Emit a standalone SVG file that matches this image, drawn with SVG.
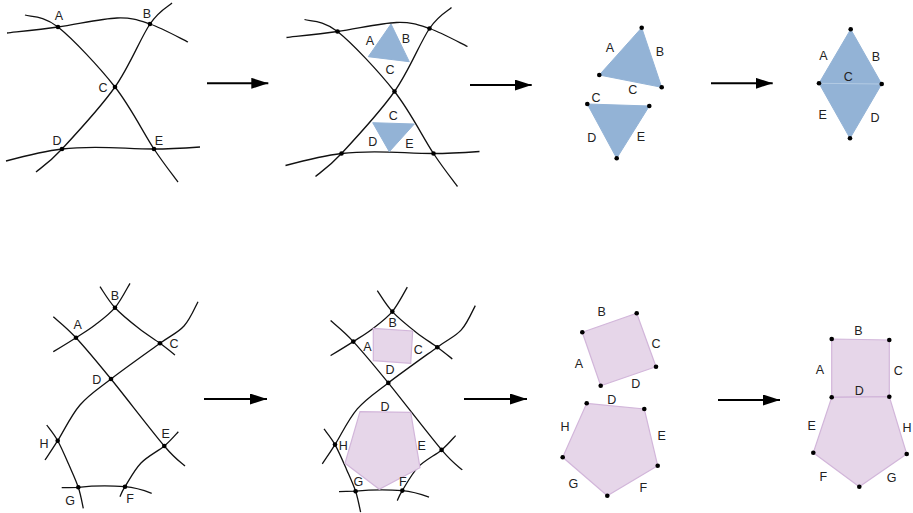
<svg xmlns="http://www.w3.org/2000/svg" xmlns:xlink="http://www.w3.org/1999/xlink" width="913" height="513" viewBox="0 0 913 513">
<style>
.c{fill:none;stroke:#111;stroke-width:1.3}
.d{fill:#000}
.t{font-family:"Liberation Sans",Arial,sans-serif;font-size:12.5px;fill:#222;text-anchor:middle}
.b{fill:#93b3d6;stroke:#93b3d6;stroke-width:1}
.p{fill:#e6d6e9;stroke:#d2b6da;stroke-width:1.2}
.a{stroke:#000;stroke-width:2;fill:none}
</style>
<defs>
<marker id="ah" markerUnits="userSpaceOnUse" markerWidth="18" markerHeight="12" refX="17" refY="5.5" orient="auto">
<path d="M0,0 L17,5.5 L0,11 Z" fill="#000"/>
</marker>
<g id="net1">
<path class="c" d="M7,33 C15.5,32 39.7,29.5 58,27 C76.3,24.5 101.7,18.5 117,18 C132.3,17.5 138.2,20 150,24 C161.8,28 181.7,39 188,42"/>
<path class="c" d="M25,15 C30.5,17 43,15 58,27 C73,39 99,66.7 115,87 C131,107.3 143.5,133.2 154,149 C164.5,164.8 174,176.5 178,182"/>
<path class="c" d="M172,3 C168.3,6.5 159.5,10 150,24 C140.5,38 129.7,66.2 115,87 C100.3,107.8 75.2,134.8 62,149 C48.8,163.2 40.3,168.2 36,172"/>
<path class="c" d="M6,161 C25,156 45,151 62,149 C95,145 125,149 154,149 C170,149 185,148 200,147"/>
</g>
<g id="net2">
<path class="c" d="M100,286.7 C102.5,290.2 108.5,300.7 115,307.7 C121.5,314.7 131.5,322.6 139,328.5 C146.5,334.4 154,338.9 160,343.3 C166,347.7 172.5,353 175,355"/>
<path class="c" d="M130,283.3 C127.5,287.4 120.8,300.8 115,307.7 C109.2,314.6 101.5,320 95,325 C88.5,330 83,333.2 76,337.7 C69,342.2 57.1,349.4 53.3,351.7"/>
<path class="c" d="M53.3,316.7 C57.1,320.2 66.4,327.3 76,337.7 C85.6,348.1 96.3,360.9 111,379 C125.7,397.1 152,431.5 164.3,446 C176.6,460.5 181.5,462.7 185,466"/>
<path class="c" d="M198,301.7 C195.7,305.8 190.3,319.1 184,326 C177.7,332.9 172.2,334.5 160,343.3 C147.8,352.1 124.3,368.7 111,379 C97.7,389.3 88.9,394.7 80,405 C71.1,415.3 63.5,431.5 57.7,440.7 C51.9,449.9 47.1,456.8 45,460"/>
<path class="c" d="M46.7,425 C48.5,427.6 54,434 57.7,440.7 C61.4,447.4 65.6,457.2 69,465 C72.4,472.8 75.9,480.1 78.3,487.3 C80.7,494.5 82.5,504.8 83.3,508.3"/>
<path class="c" d="M61.7,487.7 C67,487.5 72,487.4 78.3,487.3 C95,485.5 110,485.5 125,486.7 C135,487.5 143,490 151.7,493.3"/>
<path class="c" d="M178.3,431.7 C176,434.1 170.5,440.8 164.3,446 C158.1,451.2 147.6,456.2 141,463 C134.5,469.8 128.5,481.1 125,486.7 C121.5,492.3 120.8,495 120,496.7"/>
</g>
</defs>

<g id="panel1">
<use xlink:href="#net1" href="#net1"/>
<circle class="d" cx="58" cy="27" r="2.3"/><circle class="d" cx="150" cy="24" r="2.3"/><circle class="d" cx="115" cy="87" r="2.3"/><circle class="d" cx="62" cy="149" r="2.3"/><circle class="d" cx="154" cy="149" r="2.3"/>
<text class="t" x="59" y="19.5">A</text><text class="t" x="147" y="17.5">B</text><text class="t" x="103" y="91.5">C</text><text class="t" x="57" y="144.5">D</text><text class="t" x="159" y="144.5">E</text>
</g>

<g id="panel2">
<use xlink:href="#net1" href="#net1" transform="translate(279.5,4.5)"/>
<polygon class="b" points="391,24 368.3,56.7 409.3,61.7"/>
<polygon class="b" points="372.7,122.7 414.3,124 389.3,151.7"/>
<circle class="d" cx="337.5" cy="31.5" r="2.3"/><circle class="d" cx="429.5" cy="28.5" r="2.3"/><circle class="d" cx="394.5" cy="91.5" r="2.3"/><circle class="d" cx="341.5" cy="153.5" r="2.3"/><circle class="d" cx="433.5" cy="153.5" r="2.3"/>
<text class="t" x="370" y="44.5">A</text><text class="t" x="406" y="42.8">B</text><text class="t" x="390" y="73.8">C</text><text class="t" x="393.3" y="120.2">C</text><text class="t" x="372.7" y="146.2">D</text><text class="t" x="409.3" y="147.8">E</text>
</g>

<g id="panel3">
<polygon class="b" points="641.7,27.7 599.3,75 661.7,87.3"/>
<polygon class="b" points="587.3,104 649.3,106 616.7,158.3"/>
<circle class="d" cx="641.7" cy="27.7" r="2.3"/><circle class="d" cx="599.3" cy="75" r="2.3"/><circle class="d" cx="661.7" cy="87.3" r="2.3"/><circle class="d" cx="587.3" cy="104" r="2.3"/><circle class="d" cx="649.3" cy="106" r="2.3"/><circle class="d" cx="616.7" cy="158.3" r="2.3"/>
<text class="t" x="610" y="52.2">A</text><text class="t" x="660" y="56.2">B</text><text class="t" x="632.7" y="93.8">C</text><text class="t" x="596" y="101.8">C</text><text class="t" x="591.7" y="141.8">D</text><text class="t" x="641" y="141.2">E</text>
</g>

<g id="panel4">
<polygon class="b" points="850.7,29.3 881.7,84 850,138.3 819,83.3"/>
<line x1="819" y1="83.3" x2="881.7" y2="84" stroke="#b3cbe4" stroke-width="1"/>
<circle class="d" cx="850.7" cy="29.3" r="2.3"/><circle class="d" cx="819" cy="83.3" r="2.3"/><circle class="d" cx="881.7" cy="84" r="2.3"/><circle class="d" cx="850" cy="138.3" r="2.3"/>
<text class="t" x="823.3" y="59.5">A</text><text class="t" x="876" y="60.5">B</text><text class="t" x="848.3" y="81.2">C</text><text class="t" x="822.7" y="118.5">E</text><text class="t" x="875" y="121.8">D</text>
</g>

<g id="panel5">
<use xlink:href="#net2" href="#net2"/>
<circle class="d" cx="115" cy="307.7" r="2.3"/><circle class="d" cx="76" cy="337.7" r="2.3"/><circle class="d" cx="160" cy="343.3" r="2.3"/><circle class="d" cx="111" cy="379" r="2.3"/><circle class="d" cx="57.7" cy="440.7" r="2.3"/><circle class="d" cx="164.3" cy="446" r="2.3"/><circle class="d" cx="78.3" cy="487.3" r="2.3"/><circle class="d" cx="125" cy="486.7" r="2.3"/>
<text class="t" x="115" y="299.5">B</text><text class="t" x="77.7" y="328.8">A</text><text class="t" x="174" y="347.8">C</text><text class="t" x="96.7" y="383.8">D</text><text class="t" x="44" y="447.8">H</text><text class="t" x="165.7" y="437.8">E</text><text class="t" x="70" y="504.5">G</text><text class="t" x="130" y="502.8">F</text>
</g>

<g id="panel6">
<use xlink:href="#net2" href="#net2" transform="translate(277.3,3.9)"/>
<polygon class="p" points="373.3,328.3 412.7,331 410.7,363.3 373.3,360.7"/>
<polygon class="p" points="360,411.7 410.7,412.3 420,467.7 379.3,489.3 345,463.3"/>
<circle class="d" cx="392.3" cy="311.6" r="2.3"/><circle class="d" cx="353.3" cy="341.6" r="2.3"/><circle class="d" cx="437.3" cy="347.2" r="2.3"/><circle class="d" cx="388.3" cy="382.9" r="2.3"/><circle class="d" cx="335" cy="444.6" r="2.3"/><circle class="d" cx="441.6" cy="449.9" r="2.3"/><circle class="d" cx="355.6" cy="491.2" r="2.3"/><circle class="d" cx="402.3" cy="490.6" r="2.3"/>
<text class="t" x="392.7" y="327.2">B</text><text class="t" x="367.3" y="351.2">A</text><text class="t" x="418.3" y="353.5">C</text><text class="t" x="390" y="373.8">D</text><text class="t" x="385" y="410.5">D</text><text class="t" x="343.3" y="449.5">H</text><text class="t" x="421.7" y="450.2">E</text><text class="t" x="358.3" y="486.2">G</text><text class="t" x="402.7" y="486.2">F</text>
</g>

<g id="panel7">
<polygon class="p" points="582.3,332.3 636.7,313.3 656,366.7 600.7,385.7"/>
<polygon class="p" points="586.7,403.3 644.3,409 657.7,465.7 607.3,495.7 562.7,457.3"/>
<circle class="d" cx="582.3" cy="332.3" r="2.3"/><circle class="d" cx="636.7" cy="313.3" r="2.3"/><circle class="d" cx="656" cy="366.7" r="2.3"/><circle class="d" cx="600.7" cy="385.7" r="2.3"/>
<circle class="d" cx="586.7" cy="403.3" r="2.3"/><circle class="d" cx="644.3" cy="409" r="2.3"/><circle class="d" cx="657.7" cy="465.7" r="2.3"/><circle class="d" cx="607.3" cy="495.7" r="2.3"/><circle class="d" cx="562.7" cy="457.3" r="2.3"/>
<text class="t" x="601.7" y="315.5">B</text><text class="t" x="656" y="347.8">C</text><text class="t" x="579" y="367.8">A</text><text class="t" x="635.7" y="387.8">D</text><text class="t" x="611.7" y="403.8">D</text><text class="t" x="565" y="430.5">H</text><text class="t" x="661.7" y="439.5">E</text><text class="t" x="573.3" y="487.8">G</text><text class="t" x="643.3" y="491.8">F</text>
</g>

<g id="panel8">
<polygon class="p" points="831.7,339 889.3,340 889.3,396.7 831.7,397.3"/>
<polygon class="p" points="831.7,397.3 889.3,396.7 906.7,454 859.3,486.7 813.3,452.7"/>
<circle class="d" cx="831.7" cy="339" r="2.3"/><circle class="d" cx="889.3" cy="340" r="2.3"/><circle class="d" cx="889.3" cy="396.7" r="2.3"/><circle class="d" cx="831.7" cy="397.3" r="2.3"/><circle class="d" cx="906.7" cy="454" r="2.3"/><circle class="d" cx="859.3" cy="486.7" r="2.3"/><circle class="d" cx="813.3" cy="452.7" r="2.3"/>
<text class="t" x="858.3" y="334.5">B</text><text class="t" x="820" y="373.8">A</text><text class="t" x="898.3" y="374.5">C</text><text class="t" x="859.3" y="395.2">D</text><text class="t" x="811.7" y="429.5">E</text><text class="t" x="907" y="432.2">H</text><text class="t" x="823.3" y="480.5">F</text><text class="t" x="891.7" y="481.8">G</text>
</g>

<g id="connectors">
<line class="a" x1="207" y1="83.3" x2="268.3" y2="83.3" marker-end="url(#ah)"/>
<line class="a" x1="470" y1="85" x2="531.7" y2="85" marker-end="url(#ah)"/>
<line class="a" x1="711" y1="83.3" x2="772.7" y2="83.3" marker-end="url(#ah)"/>
<line class="a" x1="204" y1="399" x2="267" y2="399" marker-end="url(#ah)"/>
<line class="a" x1="464" y1="399" x2="527" y2="399" marker-end="url(#ah)"/>
<line class="a" x1="718" y1="400" x2="780" y2="400" marker-end="url(#ah)"/>
</g>
</svg>
